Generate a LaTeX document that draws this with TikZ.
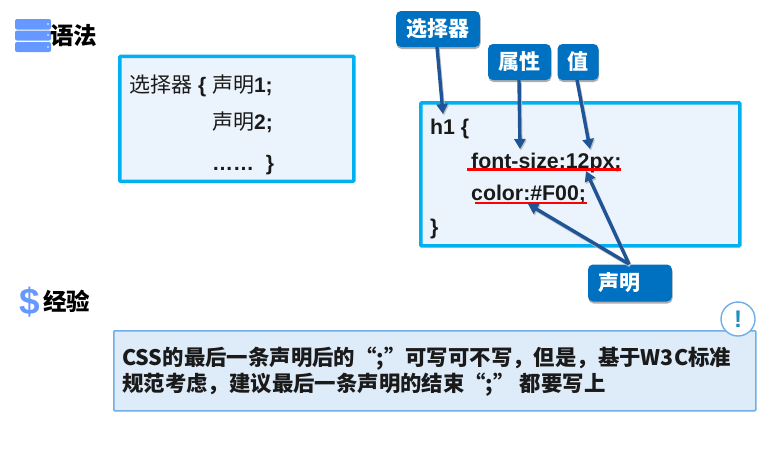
\documentclass[tikz,border=0pt]{standalone}
\usepackage{fontspec}
\setmainfont{Liberation Sans}
\newfontfamily\cjk{Noto Sans CJK SC}
\usetikzlibrary{arrows.meta,shadows}
\definecolor{cyanline}{HTML}{00B0F0}
\definecolor{boxfill}{HTML}{EBF4FC}
\definecolor{btn}{HTML}{0070C0}
\definecolor{arrowblue}{HTML}{1F5596}
\definecolor{iconblue}{HTML}{6699FF}
\definecolor{noteblue}{HTML}{6FAEE8}
\definecolor{notefill}{HTML}{DEEBF9}
\definecolor{excl}{HTML}{1F8FBF}
\definecolor{ink}{HTML}{1A1A1A}
\definecolor{arrowshade}{HTML}{BFBFBF}
\definecolor{underred}{HTML}{FF0000}
\tikzset{
 x=1pt,y=-1pt,
 panel/.style={draw=cyanline,line width=3.6pt,fill=boxfill,rounded corners=1pt},
 tag/.style={fill=btn,rounded corners=5pt,text=white,font=\cjk\bfseries\fontsize{21}{21}\selectfont,inner sep=0pt,
   drop shadow={shadow xshift=0.5pt,shadow yshift=-2pt,fill=black!45,opacity=.7}},
 callout/.style={draw=arrowblue,line width=3.4pt,-{Triangle[length=10pt,width=11pt]}},
 calloutshade/.style={draw=arrowshade,line width=3.4pt,-{Triangle[length=10pt,width=11pt]}},
 underbar/.style={fill=underred},
 code/.style={anchor=base west,inner sep=0pt,font=\bfseries\fontsize{21.3}{22}\selectfont,text=ink},
 heading/.style={anchor=base west,inner sep=0pt,font=\cjk\bfseries\fontsize{23.5}{24}\selectfont},
 plainline/.style={anchor=base west,inner sep=0pt,font=\fontsize{21}{22}\selectfont,text=ink},
 notetext/.style={anchor=base west,inner sep=0pt,font=\cjk\bfseries\fontsize{21.4}{22}\selectfont,text=ink},
 bar/.style={fill=iconblue,rounded corners=2pt},
}
\begin{document}
\begin{tikzpicture}
\useasboundingbox (0,0) rectangle (766,448);
% icon and heading 1
\fill[bar] (15,19) rectangle (51,29.5);
\fill[bar] (15,30.5) rectangle (51,40.5);
\fill[bar] (15,42) rectangle (51,52);
\foreach \yy in {24,35,47}{\fill[white] (48,\yy) circle (0.8);}
\node[heading] (h1) at (50,44) {语法};
% left panel
\node[panel,minimum width=234pt,minimum height=125pt,anchor=north west] (left) at (118,54.5) {};
\node[plainline] (l1) at (129,92) {{\cjk 选择器} \textbf{\{} {\cjk 声明}\textbf{1;}};
\node[plainline] (l2) at (212,129) {{\cjk 声明}\textbf{2;}};
\node[plainline] (l3) at (212,170) {\textbf{……\ \ \}}};
% right panel
\node[panel,minimum width=319pt,minimum height=143pt,anchor=north west] (right) at (419,101) {};
% code
\node[code] (c1) at (430,134) {h1 \{};
\node[code] (c2) at (471,168) {font-size:12px;};
\node[code] (c3) at (471,200) {color:\#F00;};
\node[code] (c4) at (430,234) {\}};
% underlines
\path[underbar] (467,168.4) rectangle (621,170.6);
\path[underbar] (475,201.9) rectangle (587,204.1);
% tags
\node[tag,minimum width=84pt,minimum height=36pt] (sel) at (438,29) {选择器};
\node[tag,minimum width=63pt,minimum height=36pt] (attr) at (519.5,62) {属性};
\node[tag,minimum width=41pt,minimum height=36pt] (val) at (578,62) {值};
\node[tag,minimum width=84pt,minimum height=37pt,text width=64pt,align=left] (decl) at (630,283) {声明};
% callouts
\coordinate (s0) at (437,47); \coordinate (s1) at (443,114);
\coordinate (a0) at (519,80); \coordinate (a1) at (520,149);
\coordinate (v0) at (577,80); \coordinate (v1) at (590,149);
\coordinate (d0) at (629,264); \coordinate (d1) at (586,171); \coordinate (d2) at (528,204);
\foreach \pa/\pb in {s0/s1,a0/a1,v0/v1,d0/d1,d0/d2}{
  \draw[calloutshade] ([shift={(1,1.5)}]\pa) -- ([shift={(1,1.5)}]\pb);
}
\draw[callout] (s0) -- (s1);
\draw[callout] (a0) -- (a1);
\draw[callout] (v0) -- (v1);
\draw[callout] (d0) -- (d1);
\draw[callout] (d0) -- (d2);
% heading 2
\node[anchor=base west,inner sep=0pt,text=iconblue,font=\bfseries\fontsize{37}{37}\selectfont] (dollar) at (19.5,314) {\$};
\node[heading] (h2) at (43,310) {经验};
% note
\node[draw=noteblue,line width=1.6pt,fill=notefill,rounded corners=1pt,minimum width=642pt,minimum height=80pt,anchor=north west] (note) at (113,330) {};
\node[notetext] (n1) at (122,365) {CSS的最后一条声明后的“;”可写可不写，但是，基于W3C标准};
\node[notetext] (n2) at (122,391) {规范考虑，建议最后一条声明的结束“;” 都要写上};
\node[draw=noteblue,line width=1.4pt,fill=white,circle,minimum size=34pt,inner sep=0pt,text=excl,font=\bfseries\fontsize{24}{24}\selectfont] (ex) at (738,319) {!};
\end{tikzpicture}
\end{document}
